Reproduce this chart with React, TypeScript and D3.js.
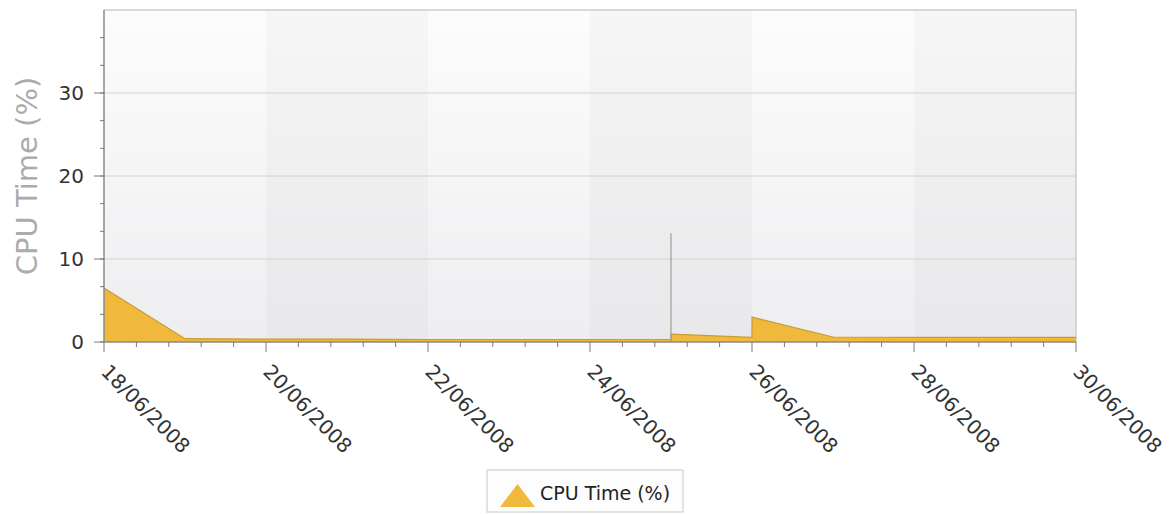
import React, { useEffect, useRef } from 'react';
import * as d3 from 'd3';

// Sample times and CPU values
const sampleTimes = [
  '2008-06-18 00:00', '2008-06-19 00:00', '2008-06-20 00:00', '2008-06-21 00:00',
  '2008-06-22 00:00', '2008-06-23 00:00', '2008-06-24 00:00', '2008-06-24 23:59',
  '2008-06-25 00:00', '2008-06-25 23:59', '2008-06-26 00:00', '2008-06-27 00:00',
  '2008-06-28 00:00', '2008-06-29 00:00', '2008-06-30 00:00',
];
const cpuValues = [6.5, 0.4, 0.35, 0.35, 0.3, 0.3, 0.3, 0.3, 0.95, 0.55, 3.0, 0.6, 0.55, 0.55, 0.55];

// Short peak drawn as a thin line
const spikeTimes = ['2008-06-25 00:00'];
const spikeValues = [13.1];

const xTickLabels = [
  '18/06/2008', '20/06/2008', '22/06/2008', '24/06/2008',
  '26/06/2008', '28/06/2008', '30/06/2008',
];
const yTickValues = [0, 10, 20, 30];
const yDomain = [0, 40];
const seriesName = 'CPU Time (%)';
const axisTitle = 'CPU Time (%)';

interface Point {
  date: Date;
  value: number;
}

const FONT = '"DejaVu Sans", Verdana, sans-serif';

const App: React.FC = () => {
  const svgRef = useRef<SVGSVGElement>(null);

  useEffect(() => {
    if (!svgRef.current) return;
    const svg = d3.select(svgRef.current);
    svg.selectAll('*').remove();

    const width = 1170;
    const height = 514;
    const margin = { top: 10, right: 94, bottom: 172, left: 104 };
    const x0 = margin.left;
    const x1 = width - margin.right;
    const y0 = height - margin.bottom;
    const y1 = margin.top;

    const parseTime = d3.timeParse('%Y-%m-%d %H:%M');
    const parseLabel = d3.timeParse('%d/%m/%Y');
    const formatLabel = d3.timeFormat('%d/%m/%Y');

    const points: Point[] = sampleTimes.map((t, i) => ({ date: parseTime(t)!, value: cpuValues[i] }));
    const spikes: Point[] = spikeTimes.map((t, i) => ({ date: parseTime(t)!, value: spikeValues[i] }));
    const xTicks = xTickLabels.map(l => parseLabel(l)!);

    const xScale = d3
      .scaleTime()
      .domain([xTicks[0], xTicks[xTicks.length - 1]])
      .range([x0, x1]);

    const yScale = d3.scaleLinear().domain(yDomain).range([y0, y1]);

    // Background gradient
    const defs = svg.append('defs');
    const grad = defs
      .append('linearGradient')
      .attr('id', 'plotBg')
      .attr('x1', 0)
      .attr('y1', 0)
      .attr('x2', 0)
      .attr('y2', 1);
    grad.append('stop').attr('offset', '0%').attr('stop-color', '#fcfcfc');
    grad.append('stop').attr('offset', '100%').attr('stop-color', '#eeeef1');

    svg
      .append('rect')
      .attr('x', x0)
      .attr('y', y1)
      .attr('width', x1 - x0)
      .attr('height', y0 - y1)
      .attr('fill', 'url(#plotBg)');

    // Alternating bands
    xTicks.slice(0, -1).forEach((t, i) => {
      if (i % 2 === 1) {
        svg
          .append('rect')
          .attr('x', xScale(t))
          .attr('y', y1)
          .attr('width', xScale(xTicks[i + 1]) - xScale(t))
          .attr('height', y0 - y1)
          .attr('fill', '#000')
          .attr('opacity', 0.025);
      }
    });

    // Grid lines
    svg
      .append('g')
      .selectAll('line')
      .data(yTickValues.filter(v => v > 0))
      .join('line')
      .attr('x1', x0)
      .attr('x2', x1)
      .attr('y1', d => yScale(d))
      .attr('y2', d => yScale(d))
      .attr('stroke', '#d2d2d2')
      .attr('stroke-width', 1);

    // Top / right border
    svg
      .append('path')
      .attr('d', `M${x0},${y1}H${x1}V${y0}`)
      .attr('fill', 'none')
      .attr('stroke', '#cdcdcd')
      .attr('stroke-width', 1.5);

    // Area
    const area = d3
      .area<Point>()
      .x(d => xScale(d.date))
      .y0(yScale(0))
      .y1(d => yScale(d.value));

    const line = d3
      .line<Point>()
      .x(d => xScale(d.date))
      .y(d => yScale(d.value));

    svg.append('path').datum(points).attr('d', area).attr('fill', '#f1b93b');
    svg
      .append('path')
      .datum(points)
      .attr('d', line)
      .attr('fill', 'none')
      .attr('stroke', '#c59c36')
      .attr('stroke-width', 1.2);

    // Spike
    svg
      .append('g')
      .selectAll('line')
      .data(spikes)
      .join('line')
      .attr('x1', d => xScale(d.date))
      .attr('x2', d => xScale(d.date))
      .attr('y1', yScale(0))
      .attr('y2', d => yScale(d.value))
      .attr('stroke', '#a49e94')
      .attr('stroke-width', 1.2);

    // Y axis
    const yAxis = svg.append('g');
    yAxis
      .append('line')
      .attr('x1', x0)
      .attr('x2', x0)
      .attr('y1', y1)
      .attr('y2', y0)
      .attr('stroke', '#8a8a8a')
      .attr('stroke-width', 1.5);

    const yMinor = d3.range(yDomain[0], yDomain[1], 10 / 3);
    yAxis
      .selectAll('.yminor')
      .data(yMinor)
      .join('line')
      .attr('x1', x0 - 4)
      .attr('x2', x0)
      .attr('y1', d => yScale(d))
      .attr('y2', d => yScale(d))
      .attr('stroke', '#7a7a7a');

    yAxis
      .selectAll('.ymajor')
      .data(yTickValues)
      .join('line')
      .attr('x1', x0 - 10)
      .attr('x2', x0)
      .attr('y1', d => yScale(d))
      .attr('y2', d => yScale(d))
      .attr('stroke', '#7a7a7a');

    yAxis
      .selectAll('text')
      .data(yTickValues)
      .join('text')
      .attr('x', x0 - 20)
      .attr('y', d => yScale(d))
      .attr('dy', '0.36em')
      .attr('text-anchor', 'end')
      .style('font-family', FONT)
      .style('font-size', '20px')
      .style('fill', '#333')
      .text(d => d);

    svg
      .append('text')
      .attr('transform', `translate(37,${(y0 + y1) / 2}) rotate(-90)`)
      .attr('text-anchor', 'middle')
      .style('font-family', FONT)
      .style('font-size', '29px')
      .style('fill', '#ababab')
      .text(axisTitle);

    // X axis
    const xAxis = svg.append('g');
    xAxis
      .append('line')
      .attr('x1', x0)
      .attr('x2', x1)
      .attr('y1', y0)
      .attr('y2', y0)
      .attr('stroke', '#8a8a8a')
      .attr('stroke-width', 1.5);

    const xMinor: Date[] = [];
    xTicks.slice(0, -1).forEach((t, i) => {
      const step = (+xTicks[i + 1] - +t) / 5;
      for (let k = 1; k < 5; k++) xMinor.push(new Date(+t + k * step));
    });

    xAxis
      .selectAll('.xminor')
      .data(xMinor)
      .join('line')
      .attr('x1', d => xScale(d))
      .attr('x2', d => xScale(d))
      .attr('y1', y0)
      .attr('y2', y0 + 5)
      .attr('stroke', '#7a7a7a');

    xAxis
      .selectAll('.xmajor')
      .data(xTicks)
      .join('line')
      .attr('x1', d => xScale(d))
      .attr('x2', d => xScale(d))
      .attr('y1', y0)
      .attr('y2', y0 + 10)
      .attr('stroke', '#7a7a7a');

    xAxis
      .selectAll('text')
      .data(xTicks)
      .join('text')
      .attr('transform', d => `translate(${xScale(d) - 4},${y0 + 31}) rotate(45)`)
      .attr('text-anchor', 'start')
      .style('font-family', FONT)
      .style('font-size', '20px')
      .style('fill', '#333')
      .text(d => formatLabel(d));

    // Legend
    const legend = svg.append('g').attr('transform', 'translate(487,470)');
    legend
      .append('rect')
      .attr('width', 196)
      .attr('height', 42)
      .attr('fill', '#fdfdfd')
      .attr('stroke', '#c8c8c8');
    legend
      .append('path')
      .attr('d', 'M13,37L30.5,14L48,37Z')
      .attr('fill', '#f1b93b');
    legend
      .append('text')
      .attr('x', 53)
      .attr('y', 30)
      .style('font-family', FONT)
      .style('font-size', '19px')
      .style('fill', '#222')
      .text(seriesName);
  }, []);

  return (
    <svg
      ref={svgRef}
      width={1170}
      height={514}
      style={{ position: 'absolute', left: 0, top: 0, background: '#fff' }}
    />
  );
};

export default App;
